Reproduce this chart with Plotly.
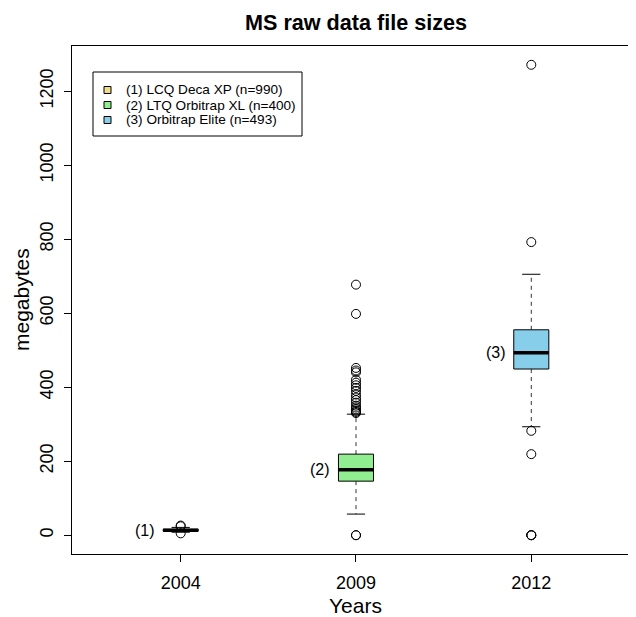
import plotly.graph_objects as go

# ---------------- data ----------------
years = ["2004", "2009", "2012"]
positions = [1, 2, 3]
instruments = ["(1) LCQ Deca XP (n=990)", "(2) LTQ Orbitrap XL (n=400)", "(3) Orbitrap Elite (n=493)"]
box_labels = ["(1)", "(2)", "(3)"]
colors = ["#EEDD82", "#90EE90", "#87CEEB"]

q1 = [11, 146, 449]
median = [13.5, 177, 493]
q3 = [16, 219, 555]
lower_whisker = [8, 57, 293]
upper_whisker = [21, 327, 705]

outliers_2004 = [5, 24, 26]
outliers_2009 = [0, 0, 330, 333, 336, 340, 345, 350, 358, 365, 372, 380, 390, 398,
                 405, 412, 420, 440, 445, 452, 598, 677]
outliers_2012 = [0, 0, 0, 219, 282, 792, 1271]
outliers = [outliers_2004, outliers_2009, outliers_2012]

y_ticks = [0, 200, 400, 600, 800, 1000, 1200]

# ---------------- geometry helpers ----------------
# the page body has an 8px margin, so the figure is 8px smaller and everything
# is placed in screen coordinates of the 636x617 window
OFF = 8
W, H = 636 - OFF, 617 - OFF
PLOT_L, PLOT_T, PLOT_B = 72, 46, 554          # screen px
ML, MT = PLOT_L - OFF, PLOT_T - OFF
MB = (617 - PLOT_B)
MR = 0
PW, PH = W - ML - MR, H - MT - MB
def px_x(p):
    return (p - PLOT_L) / PW
def px_y(p):
    return (PLOT_B - p) / PH

hw = 0.1     # half box width
cw = 0.052   # half cap width

fig = go.Figure()

# whiskers (dashed) and caps
for i, p in enumerate(positions):
    for a, b in [(q3[i], upper_whisker[i]), (q1[i], lower_whisker[i])]:
        fig.add_trace(go.Scatter(x=[p, p], y=[a, b], mode="lines",
                                 line=dict(color="#333333", width=1, dash="4px,4px"),
                                 hoverinfo="skip", showlegend=False))
    for v in (upper_whisker[i], lower_whisker[i]):
        fig.add_trace(go.Scatter(x=[p - cw, p + cw], y=[v, v], mode="lines",
                                 line=dict(color="black", width=1),
                                 hoverinfo="skip", showlegend=False))

# boxes
for i, p in enumerate(positions):
    fig.add_trace(go.Scatter(x=[p - hw, p + hw, p + hw, p - hw, p - hw],
                             y=[q1[i], q1[i], q3[i], q3[i], q1[i]],
                             mode="lines", fill="toself", fillcolor=colors[i],
                             line=dict(color="black", width=1),
                             hoverinfo="skip", showlegend=False))
    fig.add_trace(go.Scatter(x=[p - hw, p + hw], y=[median[i], median[i]],
                             mode="lines", line=dict(color="black", width=3.5),
                             hoverinfo="skip", showlegend=False))

# outliers
for i, p in enumerate(positions):
    fig.add_trace(go.Scatter(x=[p] * len(outliers[i]), y=outliers[i], mode="markers",
                             marker=dict(symbol="circle-open", size=9,
                                         color="black", line=dict(width=1)),
                             hoverinfo="skip", showlegend=False))

annotations = []
# box labels
for i, p in enumerate(positions):
    annotations.append(dict(x=p - hw, y=median[i], xref="x", yref="y", text=box_labels[i],
                            showarrow=False, xanchor="right", yanchor="middle", xshift=-6,
                            font=dict(size=16, color="black")))

# legend
shapes = [dict(type="rect", xref="paper", yref="paper",
               x0=px_x(93), x1=px_x(302), y0=px_y(136), y1=px_y(72),
               line=dict(color="black", width=1), fillcolor="white", layer="above")]
leg_y = [90, 105, 120]
for i, t in enumerate(instruments):
    shapes.append(dict(type="rect", xref="paper", yref="paper",
                       x0=px_x(104), x1=px_x(111), y0=px_y(leg_y[i] + 3.5), y1=px_y(leg_y[i] - 3.5),
                       line=dict(color="black", width=1), fillcolor=colors[i], layer="above"))
    annotations.append(dict(x=px_x(124), y=px_y(leg_y[i]), xref="paper", yref="paper", text=t,
                            showarrow=False, xanchor="left", yanchor="middle",
                            font=dict(size=13.6, color="black")))

# titles
annotations.append(dict(x=px_x(355.5), y=px_y(22), xref="paper", yref="paper",
                        text="<b>MS raw data file sizes</b>", showarrow=False,
                        xanchor="center", yanchor="middle", font=dict(size=21.6, color="black")))
annotations.append(dict(x=px_x(355.5), y=px_y(605), xref="paper", yref="paper", text="Years",
                        showarrow=False, xanchor="center", yanchor="middle",
                        font=dict(size=21, color="black")))
annotations.append(dict(x=px_x(21), y=0.5, xref="paper", yref="paper", text="megabytes",
                        showarrow=False, xanchor="center", yanchor="middle",
                        textangle=-90, font=dict(size=21, color="black")))

fig.update_layout(
    width=W, height=H,
    margin=dict(l=ML, r=MR, t=MT, b=MB, pad=0),
    paper_bgcolor="white", plot_bgcolor="white",
    font=dict(family="Liberation Sans, Arial, sans-serif", color="black"),
    showlegend=False,
    shapes=shapes, annotations=annotations,
    xaxis=dict(range=[0.38, 0.38 + PW / 175.3], tickvals=positions, ticktext=years,
               showgrid=False, zeroline=False, showline=True, mirror=True,
               linecolor="black", linewidth=1, ticks="outside", ticklen=7,
               tickcolor="black", tickfont=dict(size=18), ticklabelstandoff=5,
               fixedrange=True),
    yaxis=dict(range=[-50.84, 1321.84], tickvals=y_ticks,
               showgrid=False, zeroline=False, showline=True, mirror=False,
               linecolor="black", linewidth=1, ticks="outside", ticklen=7,
               tickcolor="black", tickfont=dict(size=18), tickangle=-90,
               ticklabelstandoff=4, fixedrange=True),
)

fig.write_html("out.html")
